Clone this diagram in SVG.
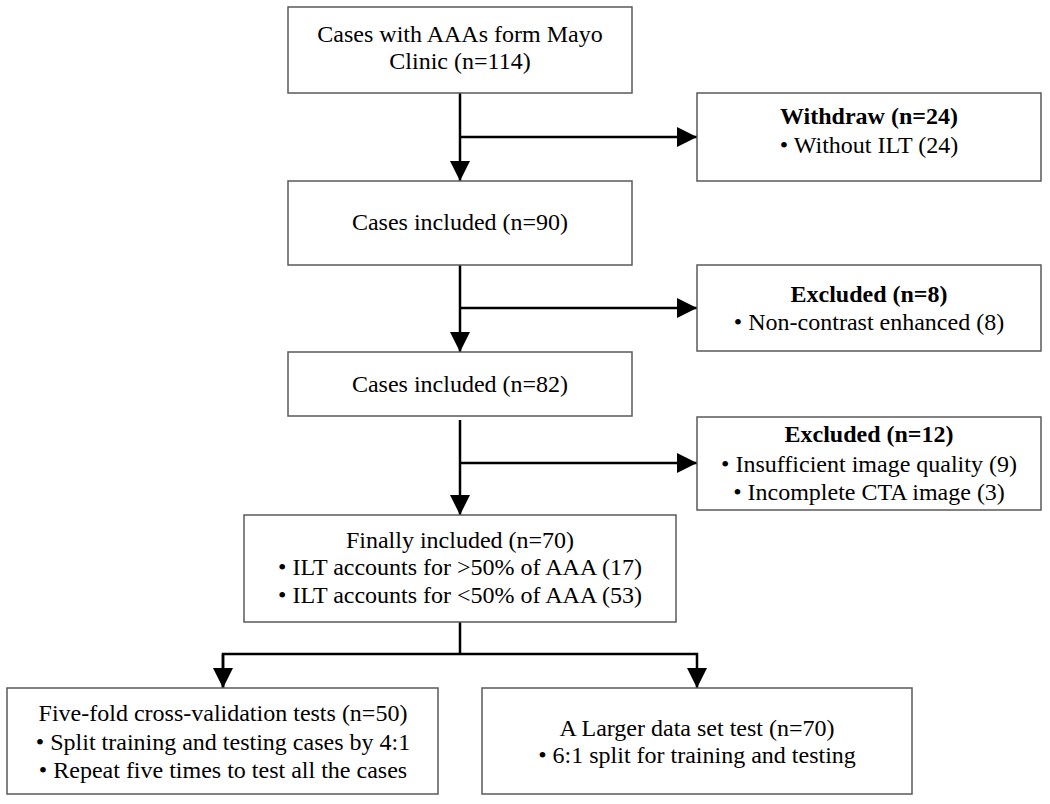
<svg xmlns="http://www.w3.org/2000/svg" width="1050" height="804" viewBox="0 0 1050 804">
<defs>
<style>
.box{fill:#fff;stroke:#595959;stroke-width:1.5}
.t{font-family:"Liberation Serif","Times New Roman",serif;font-size:24px;fill:#000;text-anchor:middle}
.b{font-weight:bold}
.c{fill:none;stroke:#000;stroke-width:2.5}
</style>
<marker id="ah" markerUnits="userSpaceOnUse" markerWidth="20" markerHeight="20" viewBox="0 0 20 20" refX="20" refY="10" orient="auto">
<path d="M0,0 L20,10 L0,20 Z" fill="#000"/>
</marker>
</defs>
<rect width="1050" height="804" fill="#fff"/>
<g id="connectors">
<line class="c" x1="460" y1="93" x2="460" y2="181" marker-end="url(#ah)"/>
<line class="c" x1="460" y1="137" x2="697" y2="137" marker-end="url(#ah)"/>
<line class="c" x1="460" y1="265" x2="460" y2="352" marker-end="url(#ah)"/>
<line class="c" x1="460" y1="308" x2="697" y2="308" marker-end="url(#ah)"/>
<line class="c" x1="460" y1="420" x2="460" y2="515" marker-end="url(#ah)"/>
<line class="c" x1="460" y1="463" x2="697" y2="463" marker-end="url(#ah)"/>
<line class="c" x1="460" y1="622" x2="460" y2="654"/>
<polyline class="c" points="223,688 223,654 697,654 697,688" marker-end="url(#ah)"/>
<line class="c" x1="223" y1="654" x2="223" y2="688" marker-end="url(#ah)"/>
</g>
<g id="n1">
<rect class="box" x="288" y="7" width="344" height="86"/>
<text class="t" x="460" y="42">Cases with AAAs form Mayo</text>
<text class="t" x="460" y="69">Clinic (n=114)</text>
</g>
<g id="n2">
<rect class="box" x="697" y="93" width="344" height="88"/>
<text class="t b" x="869" y="124">Withdraw (n=24)</text>
<text class="t" x="869" y="153">•  Without ILT (24)</text>
</g>
<g id="n3">
<rect class="box" x="288" y="181" width="344" height="84"/>
<text class="t" x="460" y="230">Cases included (n=90)</text>
</g>
<g id="n4">
<rect class="box" x="697" y="265" width="344" height="86"/>
<text class="t b" x="869" y="302">Excluded (n=8)</text>
<text class="t" x="869" y="330">• Non-contrast enhanced (8)</text>
</g>
<g id="n5">
<rect class="box" x="288" y="352" width="344" height="64"/>
<text class="t" x="460" y="392">Cases included (n=82)</text>
</g>
<g id="n6">
<rect class="box" x="697" y="417" width="344" height="93"/>
<text class="t b" x="869" y="442">Excluded (n=12)</text>
<text class="t" x="869" y="472">• Insufficient image quality (9)</text>
<text class="t" x="869" y="500">• Incomplete CTA image (3)</text>
</g>
<g id="n7">
<rect class="box" x="244" y="515" width="432" height="107"/>
<text class="t" x="460" y="548">Finally included (n=70)</text>
<text class="t" x="460" y="575">• ILT accounts for &gt;50% of AAA (17)</text>
<text class="t" x="460" y="603">• ILT accounts for &lt;50% of AAA (53)</text>
</g>
<g id="n8">
<rect class="box" x="7" y="688" width="431" height="106"/>
<text class="t" x="223" y="721">Five-fold cross-validation tests (n=50)</text>
<text class="t" x="223" y="750">• Split training and testing cases by 4:1</text>
<text class="t" x="223" y="778">• Repeat five times to test all the cases</text>
</g>
<g id="n9">
<rect class="box" x="482" y="688" width="430" height="106"/>
<text class="t" x="697" y="736">A Larger data set test (n=70)</text>
<text class="t" x="697" y="763">• 6:1 split for training and testing</text>
</g>
</svg>
